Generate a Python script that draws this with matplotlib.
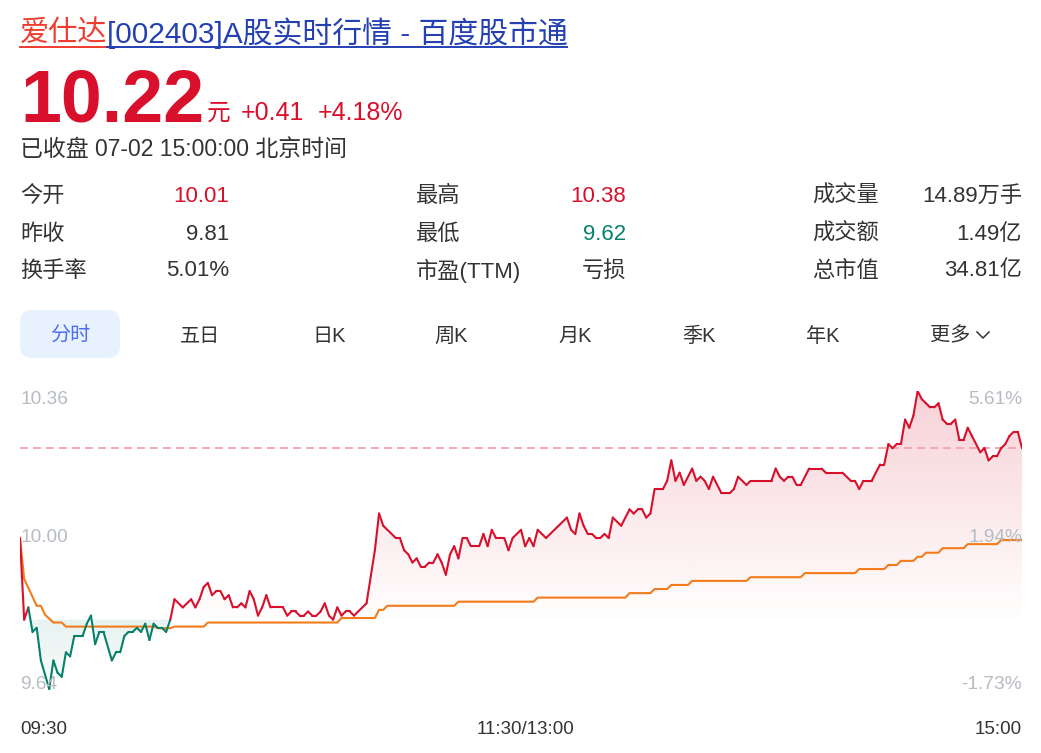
import matplotlib
matplotlib.use("Agg")
import matplotlib.pyplot as plt
from matplotlib.collections import LineCollection
from matplotlib.patches import Polygon, FancyBboxPatch
from matplotlib.lines import Line2D
from matplotlib.colors import to_rgb
import numpy as np

plt.rcParams["font.family"] = ["Liberation Sans", "Noto Sans CJK SC"]

# ─────────────────────────────────────────────────────────────
# data
# ─────────────────────────────────────────────────────────────
NAME = "爱仕达"
TITLE_REST = "[002403]A股实时行情 - 百度股市通"
LAST = 10.22
CHANGE = "+0.41"
CHANGE_PCT = "+4.18%"
STATUS = "已收盘 07-02 15:00:00 北京时间"
PREV_CLOSE = 9.81

STAT_LABELS = [["今开", "昨收", "换手率"],
               ["最高", "最低", "市盈(TTM)"],
               ["成交量", "成交额", "总市值"]]
STAT_VALUES = [["10.01", "9.81", "5.01%"],
               ["10.38", "9.62", "亏损"],
               ["14.89万手", "1.49亿", "34.81亿"]]
STAT_KIND = [["up", "flat", "flat"],
             ["up", "down", "flat"],
             ["flat", "flat", "flat"]]

TABS = ["分时", "五日", "日K", "周K", "月K", "季K", "年K", "更多"]

AXIS_HIGH, AXIS_MID, AXIS_LOW = 10.36, 10.00, 9.64
TIME_LABELS = ["09:30", "11:30/13:00", "15:00"]
N_MIN = 240  # minutes in the session (index 0..240)

# minute index -> last price (turning points of the intraday line)
PRICE_MIN = [0, 1, 2, 3, 4, 5, 7, 8, 9, 10, 11, 12, 13, 15, 16, 17, 18, 19, 20, 22,
             23, 24, 25, 26, 27, 28, 29, 30, 31, 32, 33, 34, 35, 36, 37, 39, 41, 42,
             43, 44, 45, 46, 47, 48, 49, 50, 51, 52, 53, 54, 55, 56, 57, 58, 59, 60,
             63, 64, 65, 66, 67, 68, 69, 70, 71, 72, 73, 74, 75, 76, 77, 78, 79, 80,
             83, 85, 86, 87, 90, 91, 92, 93, 94, 95, 96, 97, 98, 99, 100, 101, 102,
             103, 104, 105, 106, 107, 108, 110, 111, 112, 113, 114, 116, 117, 118,
             120, 121, 122, 123, 124, 126, 131, 132, 133, 134, 135, 136, 137, 138,
             139, 140, 141, 142, 144, 146, 147, 148, 149, 150, 151, 152, 154, 155,
             156, 157, 158, 159, 161, 162, 163, 164, 165, 166, 168, 170, 171, 172,
             174, 175, 180, 181, 182, 183, 184, 185, 186, 187, 189, 192, 193, 197,
             199, 200, 201, 202, 204, 206, 207, 208, 209, 210, 211, 212, 213, 214,
             215, 216, 217, 218, 219, 220, 221, 222, 223, 224, 225, 226, 227, 228,
             230, 231, 232, 233, 234, 235, 236, 237, 238, 239, 240]
PRICE = [10.00, 9.80, 9.83, 9.77, 9.78, 9.70, 9.63, 9.70, 9.67, 9.66, 9.72, 9.71, 9.76,
         9.76, 9.79, 9.81, 9.74, 9.77, 9.77, 9.70, 9.72, 9.72, 9.76, 9.77, 9.77, 9.78,
         9.77, 9.79, 9.75, 9.79, 9.78, 9.78, 9.77, 9.80, 9.85, 9.83, 9.85, 9.83, 9.85,
         9.88, 9.89, 9.86, 9.87, 9.87, 9.85, 9.86, 9.83, 9.83, 9.84, 9.83, 9.87, 9.85,
         9.81, 9.83, 9.86, 9.83, 9.83, 9.81, 9.82, 9.82, 9.81, 9.81, 9.82, 9.81, 9.81,
         9.82, 9.84, 9.81, 9.80, 9.83, 9.81, 9.82, 9.82, 9.81, 9.84, 9.97, 10.06, 10.03,
         10.00, 10.00, 9.97, 9.96, 9.94, 9.95, 9.93, 9.93, 9.94, 9.94, 9.96, 9.94, 9.91,
         9.96, 9.98, 9.95, 10.00, 10.00, 9.98, 9.98, 10.01, 9.98, 10.02, 10.00, 10.00,
         9.97, 10.00, 10.02, 9.98, 10.00, 9.98, 10.02, 10.00, 10.05, 10.02, 10.01, 10.06,
         10.03, 10.01, 10.01, 10.00, 10.00, 10.01, 10.00, 10.05, 10.03, 10.07, 10.06,
         10.07, 10.07, 10.05, 10.06, 10.12, 10.12, 10.14, 10.19, 10.14, 10.16, 10.13,
         10.17, 10.14, 10.15, 10.14, 10.12, 10.15, 10.11, 10.11, 10.12, 10.15, 10.13,
         10.14, 10.14, 10.17, 10.15, 10.14, 10.15, 10.15, 10.13, 10.13, 10.17, 10.17,
         10.16, 10.16, 10.14, 10.14, 10.12, 10.14, 10.14, 10.18, 10.18, 10.23, 10.22,
         10.23, 10.23, 10.29, 10.27, 10.30, 10.36, 10.34, 10.33, 10.32, 10.32, 10.33,
         10.29, 10.28, 10.28, 10.29, 10.24, 10.24, 10.27, 10.25, 10.21, 10.22, 10.19,
         10.20, 10.20, 10.22, 10.23, 10.25, 10.26, 10.26, 10.22]

# minute index -> average price (step points of the orange line)
AVG_MIN = [0, 1, 4, 5, 6, 8, 10, 11, 32, 33, 36, 37, 44, 45, 76, 77, 85, 86, 87, 88,
           104, 105, 123, 124, 145, 146, 151, 152, 155, 156, 160, 161, 174, 175, 187,
           188, 200, 201, 207, 208, 210, 211, 214, 215, 216, 217, 220, 221, 226, 227,
           234, 235, 240]
AVG = [10.000, 9.900, 9.834, 9.834, 9.812, 9.793, 9.793, 9.783, 9.783, 9.779, 9.779,
       9.783, 9.783, 9.793, 9.793, 9.804, 9.804, 9.824, 9.824, 9.834, 9.834, 9.844,
       9.844, 9.854, 9.854, 9.865, 9.865, 9.875, 9.875, 9.885, 9.885, 9.895, 9.895,
       9.904, 9.904, 9.914, 9.914, 9.924, 9.924, 9.934, 9.934, 9.944, 9.944, 9.954,
       9.954, 9.964, 9.964, 9.975, 9.975, 9.985, 9.985, 9.995, 9.995]

# colours
RED = "#d8102b"
GREEN = "#07806b"
ORANGE = "#f27b1b"
DARK = "#333333"
GREY = "#b7bbc3"
SPLIT = 9.80   # line / shading turns green under this level

W, H = 1041, 753


def fx(x):
    return x / W


def fy(y):
    return 1 - y / H


def gradient_fill(ax, verts, colour, a_top, a_bot, y_top, y_bot):
    poly = Polygon(verts, closed=True, facecolor="none", edgecolor="none")
    ax.add_patch(poly)
    grad = np.zeros((256, 1, 4))
    grad[..., :3] = to_rgb(colour)
    grad[..., 3] = np.linspace(a_top, a_bot, 256)[:, None]
    im = ax.imshow(grad, aspect="auto", origin="upper", zorder=1,
                   extent=[0, N_MIN, y_bot, y_top], interpolation="bilinear")
    im.set_clip_path(poly)


fig = plt.figure(figsize=(W / 100, H / 100), dpi=100)
fig.patch.set_facecolor("white")
renderer = fig.canvas.get_renderer()

# ── header ───────────────────────────────────────────────────
t1 = fig.text(fx(20), fy(33), NAME, color="#f03b2f", fontsize=21, va="center")
name_end = t1.get_window_extent(renderer).x1
fig.text(name_end / W, fy(33), TITLE_REST, color="#2440b3", fontsize=21.5, va="center")
fig.add_artist(Line2D([fx(20), name_end / W], [fy(47), fy(47)], color="#f03b2f", lw=1.4))
fig.add_artist(Line2D([name_end / W, fx(567)], [fy(47), fy(47)], color="#2440b3", lw=1.4))

big = fig.text(fx(20), fy(121), f"{LAST:.2f}", color=RED, fontsize=53,
               fontweight="bold", va="baseline")
big_end = big.get_window_extent(renderer).x1
fig.text(big_end / W + fx(3), fy(120), "元", color=RED, fontsize=17, va="baseline")
fig.text(fx(241), fy(120), CHANGE, color=RED, fontsize=18, va="baseline")
fig.text(fx(318), fy(120), CHANGE_PCT, color=RED, fontsize=18, va="baseline")
fig.text(fx(20), fy(150), STATUS, color=DARK, fontsize=16.5, va="center")

kind_col = {"up": RED, "down": GREEN, "flat": DARK}
label_x = [20, 416, 812]
value_x = [229, 626, 1022]
row_y = [196, 234, 271]
for c in range(3):
    for r in range(3):
        fig.text(fx(label_x[c]), fy(row_y[r]), STAT_LABELS[c][r], color=DARK,
                 fontsize=16, va="center")
        fig.text(fx(value_x[c]), fy(row_y[r]), STAT_VALUES[c][r],
                 color=kind_col[STAT_KIND[c][r]], fontsize=16, va="center", ha="right")

# ── tabs ─────────────────────────────────────────────────────
box = FancyBboxPatch((fx(20), fy(358)), fx(100), (358 - 310) / H,
                     boxstyle="round,pad=0,rounding_size=0.012",
                     transform=fig.transFigure, facecolor="#e8f1fe",
                     edgecolor="none", mutation_aspect=W / H)
fig.add_artist(box)
tab_x = [70, 200, 329, 451, 575, 699, 823, 950]
for i, (lab, x) in enumerate(zip(TABS, tab_x)):
    fig.text(fx(x), fy(336), lab, fontsize=14.5, ha="center", va="center",
             color="#4e6ef2" if i == 0 else DARK)
fig.add_artist(Line2D([fx(977), fx(983), fx(989)], [fy(332), fy(338), fy(332)],
                      color=DARK, lw=1.1))

# ── intraday chart ───────────────────────────────────────────
top_px, bot_px = 391, 705
ax = fig.add_axes([fx(20), fy(bot_px), 1002 / W, (bot_px - top_px) / H])
ax.set_axis_off()
px_per_unit = (685 - top_px) / (AXIS_HIGH - AXIS_LOW)
y_bottom = AXIS_LOW - (bot_px - 685) / px_per_unit

pm = np.array(PRICE_MIN, dtype=float)
pv = np.array(PRICE)
am = np.array(AVG_MIN, dtype=float)
av = np.array(AVG)

# shaded areas between the price line and the split level
up = np.maximum(pv, SPLIT)
rverts = np.vstack([np.column_stack([pm, up]),
                    [[pm[-1], SPLIT], [pm[0], SPLIT]]])
gradient_fill(ax, rverts, RED, 0.19, 0.0, AXIS_HIGH, SPLIT - 0.02)

dn = np.minimum(pv, SPLIT)
gverts = np.vstack([np.column_stack([pm, dn]),
                    [[pm[-1], SPLIT], [pm[0], SPLIT]]])
gradient_fill(ax, gverts, GREEN, 0.10, 0.01, SPLIT, y_bottom)

# price line, coloured by segment
segs = np.stack([np.column_stack([pm[:-1], pv[:-1]]),
                 np.column_stack([pm[1:], pv[1:]])], axis=1)
seg_col = [GREEN if min(a, b) < SPLIT else RED for a, b in zip(pv[:-1], pv[1:])]
ax.add_collection(LineCollection(segs, colors=seg_col, linewidths=1.5,
                                 zorder=4, capstyle="round", joinstyle="round"))

# average line
ax.plot(am, av, color=ORANGE, lw=1.5, zorder=3, solid_joinstyle="round")

# last price dashed reference
ax.axhline(LAST, color="#f5a3a8", lw=1.3, dashes=(4.4, 2.8), zorder=2)

ax.set_xlim(0, N_MIN)
ax.set_ylim(y_bottom, AXIS_HIGH)

# axis labels
lab_kw = dict(color=GREY, fontsize=13.8)
for val, va in [(AXIS_HIGH, "top"), (AXIS_MID, "center"), (AXIS_LOW, "center")]:
    pct = (val / PREV_CLOSE - 1) * 100
    ax.text(0, val, f"{val:.2f}", ha="left", va=va, zorder=5, **lab_kw)
    ax.text(N_MIN, val, f"{pct:.2f}%", ha="right", va=va, zorder=5, **lab_kw)

fig.text(fx(20), fy(729), TIME_LABELS[0], color=DARK, fontsize=13.5, va="center")
fig.text(fx(526), fy(729), TIME_LABELS[1], color=DARK, fontsize=13.5, va="center", ha="center")
fig.text(fx(1022), fy(729), TIME_LABELS[2], color=DARK, fontsize=13.5, va="center", ha="right")

fig.savefig("out.png", dpi=100, facecolor="white")
